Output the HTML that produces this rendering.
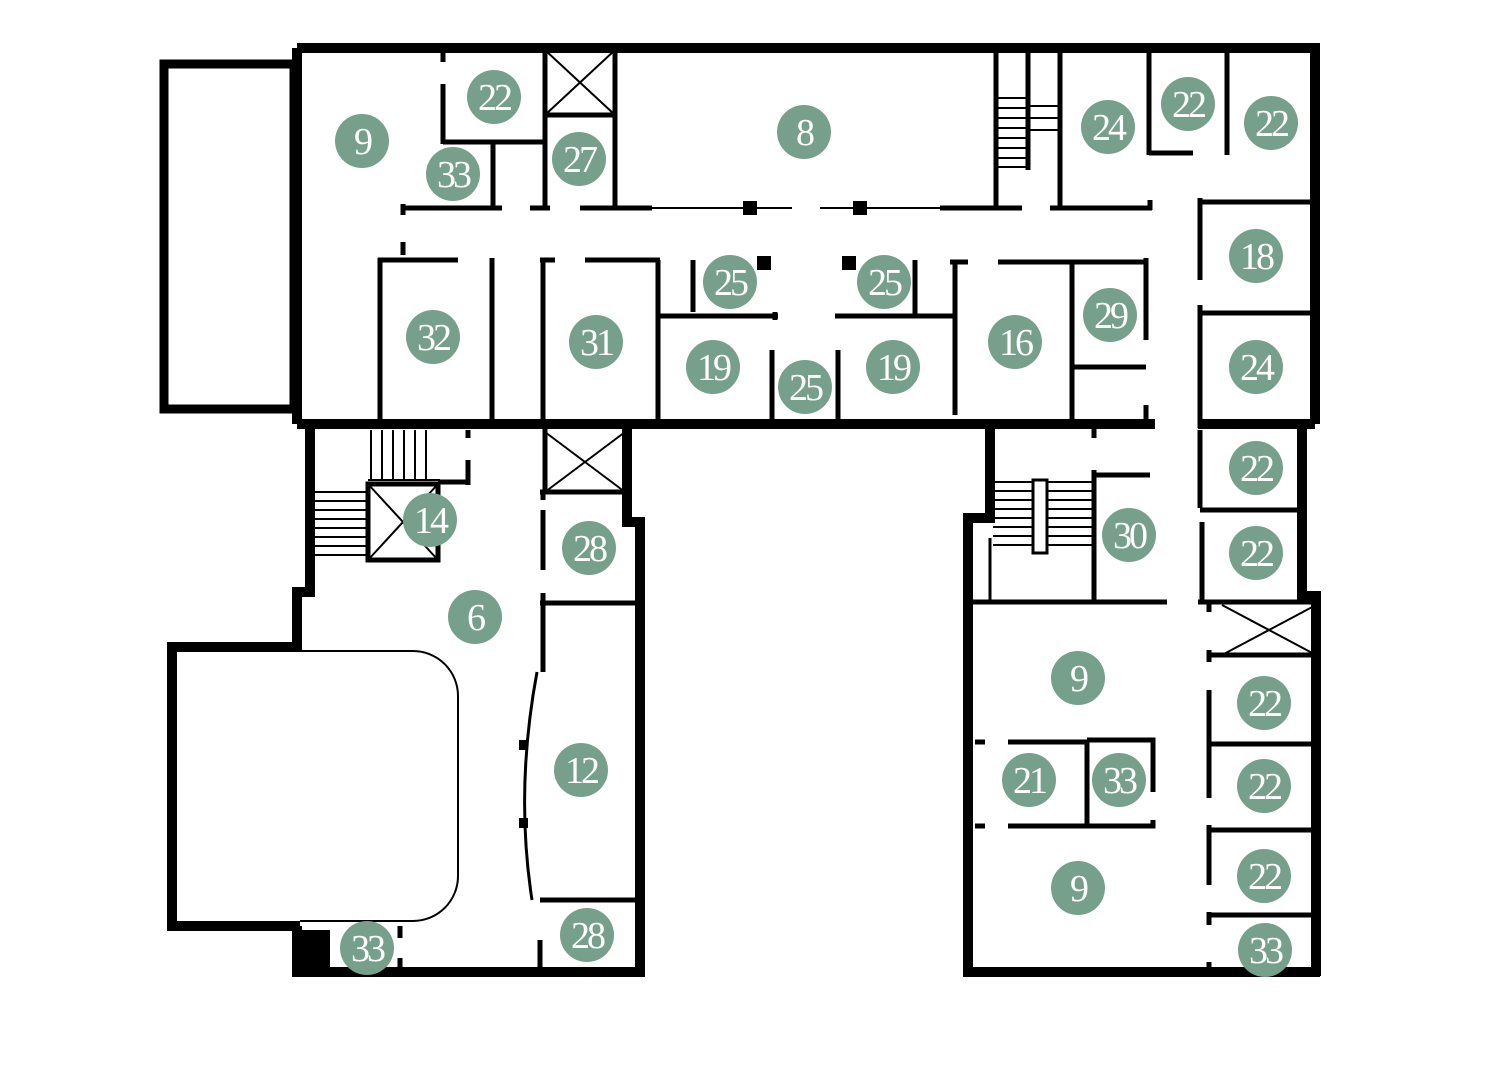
<!DOCTYPE html>
<html><head><meta charset="utf-8"><style>html,body{margin:0;padding:0;background:#fff}svg{display:block}</style></head>
<body>
<svg width="1500" height="1080" viewBox="0 0 1500 1080" xmlns="http://www.w3.org/2000/svg">
<g fill="none" stroke="#000" stroke-linecap="butt">
<g stroke-width="10">
<path d="M297 48 H1315 V424"/>
<path d="M297 48 V424"/>
<path d="M297 424 H1155 M1198 424 H1315"/>
<path d="M310 424 V592 H297 V647"/>
<path d="M302 647 H172 V926 H300"/>
<path d="M297 926 V976 M292 972 H645 M640 976 V522 H627 V428"/>
<path d="M990 428 V518 H968 V976 M963 972 H1320 M1316 976 V596 H1302 V428"/>
</g>
<rect x="164" y="64" width="130" height="345" stroke-width="9"/>
<rect x="292" y="930" width="38" height="46" fill="#000" stroke="none"/>
<path d="M300 651 H413 A45 45 0 0 1 458 696 V876 A45 45 0 0 1 413 921 H300" stroke-width="2"/>
<g stroke-width="5">
<path d="M443 50 V62 M443 84 V144 M443 142 H545"/>
<path d="M493 142 V208"/>
<path d="M545 50 V208 M615 50 V208 M545 115 H615"/>
<path d="M402 208 H502 M530 208 H550 M580 208 H652 M940 208 H1022 M1050 208 H1152"/>
<path d="M1150 200 V210"/>
<path d="M403 204 V215 M403 242 V255"/>
<path d="M996 50 V210 M1028 50 V170 M1060 50 V210"/>
<path d="M1149 50 V155 M1149 153 H1193 M1227 50 V155"/>
<path d="M1200 198 V280 M1198 202 H1315 M1198 313 H1315 M1200 305 V320 M1200 318 V428"/>
<path d="M380 258 V420 M378 260 H458 M492 258 V420"/>
<path d="M543 258 V420 M540 260 H555 M585 260 H660 M658 260 V420 M658 316 H778 M693 260 V312 M775 312 V320"/>
<path d="M772 350 V420 M838 350 V420 M835 316 H955 M915 260 V314 M955 260 V415 M950 262 H968 M998 262 H1148 M1072 262 V420 M1072 367 H1146 M1146 258 V340 M1146 405 V420 M1094 424 V438"/>
<path d="M468 430 V438 M468 460 V485 M438 482 H470"/>
<path d="M545 428 V492 M540 492 H625 M543 492 V500 M543 510 V570 M543 593 V672 M540 603 H638 M540 900 H638 M540 940 V972"/>
<path d="M400 926 V938 M400 958 V972"/>
<path d="M1094 470 V600 M1092 475 H1150 M968 602 H1167 M1198 602 H1320"/>
<path d="M1200 430 V508 M1200 510 H1302 M1202 522 V600"/>
<path d="M1209 600 V612 M1208 655 H1316 M1209 650 V662 M1209 690 V798 M1209 744 H1316 M1209 825 V885 M1209 830 H1316 M1209 912 V925 M1209 915 H1316 M1209 962 V972"/>
<path d="M1087 740 V828 M1087 740 H1153 V792 M1087 826 H1153 V820"/>
<path d="M975 742 H985 M1008 742 H1087 M975 826 H985 M1008 826 H1087"/>
</g>
<g stroke-width="2">
<path d="M652 208 H792 M820 208 H940"/>
<path d="M545 50 L615 115 M615 50 L545 115"/>
<path d="M545 432 L625 492 M625 432 L545 492"/>
<path d="M1222 605 L1316 655 M1316 605 L1222 655"/>
<rect x="368" y="484" width="70" height="76" stroke-width="5"/>
<path d="M368 484 L438 560 M438 484 L368 560"/>
<path d="M371 430 V480 M382 430 V480 M393 430 V480 M404 430 V480 M415 430 V480 M426 430 V480 M368 480 H440"/>
<path d="M315 492 H368 M315 501 H368 M315 510 H368 M315 519 H368 M315 528 H368 M315 537 H368 M315 546 H368 M315 555 H368"/>
<path d="M998 98 H1028 M998 108 H1028 M998 118 H1028 M998 128 H1028 M998 138 H1028 M998 148 H1028 M998 158 H1028 M998 167 H1028 M1028 106 H1060 M1028 118 H1060 M1028 130 H1060"/>
<path d="M993 482 H1092 M993 491 H1092 M993 500 H1092 M993 509 H1092 M993 518 H1092 M993 527 H1092 M993 536 H1092 M993 545 H1092"/>
<rect x="1033" y="480" width="14" height="73" fill="#fff" stroke-width="3"/>
<path d="M990 538 V600" stroke-width="3"/>
<path d="M537 672 Q515 790 532 900" stroke-width="3"/>
</g>
<g fill="#000" stroke="none">
<rect x="743" y="201" width="14" height="14"/><rect x="853" y="201" width="14" height="14"/>
<rect x="757" y="256" width="14" height="14"/><rect x="842" y="256" width="14" height="14"/>
<rect x="519" y="740" width="9" height="10"/><rect x="519" y="818" width="9" height="10"/>
</g>
</g>
<g fill="#76a08b">
<circle cx="362" cy="141" r="27"/><circle cx="494" cy="97" r="27"/><circle cx="453" cy="174" r="27"/><circle cx="579" cy="159" r="27"/>
<circle cx="804" cy="132" r="27"/><circle cx="1108" cy="127" r="27"/><circle cx="1188" cy="104" r="27"/><circle cx="1271" cy="123" r="27"/>
<circle cx="1256" cy="256" r="27"/><circle cx="1256" cy="367" r="27"/><circle cx="1110" cy="315" r="27"/><circle cx="1015" cy="342" r="27"/>
<circle cx="433" cy="337" r="27"/><circle cx="596" cy="342" r="27"/><circle cx="730" cy="282" r="27"/><circle cx="884" cy="282" r="27"/>
<circle cx="713" cy="367" r="27"/><circle cx="805" cy="387" r="27"/><circle cx="893" cy="367" r="27"/>
<circle cx="430" cy="520" r="27"/><circle cx="589" cy="548" r="27"/><circle cx="475" cy="617" r="27"/><circle cx="581" cy="770" r="27"/>
<circle cx="587" cy="935" r="27"/><circle cx="367" cy="948" r="27"/>
<circle cx="1129" cy="535" r="27"/><circle cx="1256" cy="468" r="27"/><circle cx="1256" cy="553" r="27"/>
<circle cx="1078" cy="678" r="27"/><circle cx="1029" cy="780" r="27"/><circle cx="1119" cy="780" r="27"/><circle cx="1078" cy="888" r="27"/>
<circle cx="1264" cy="703" r="27"/><circle cx="1264" cy="786" r="27"/><circle cx="1264" cy="876" r="27"/><circle cx="1265" cy="950" r="27"/>
</g>
<g fill="#fff" font-family="Liberation Serif, serif" font-size="38" text-anchor="middle" letter-spacing="-3">
<text x="362" y="154">9</text><text x="494" y="110">22</text><text x="453" y="187">33</text><text x="579" y="172">27</text>
<text x="804" y="145">8</text><text x="1108" y="140">24</text><text x="1188" y="117">22</text><text x="1271" y="136">22</text>
<text x="1256" y="269">18</text><text x="1256" y="380">24</text><text x="1110" y="328">29</text><text x="1015" y="355">16</text>
<text x="433" y="350">32</text><text x="596" y="355">31</text><text x="730" y="295">25</text><text x="884" y="295">25</text>
<text x="713" y="380">19</text><text x="805" y="400">25</text><text x="893" y="380">19</text>
<text x="430" y="533">14</text><text x="589" y="561">28</text><text x="475" y="630">6</text><text x="581" y="783">12</text>
<text x="587" y="948">28</text><text x="367" y="961">33</text>
<text x="1129" y="548">30</text><text x="1256" y="481">22</text><text x="1256" y="566">22</text>
<text x="1078" y="691">9</text><text x="1029" y="793">21</text><text x="1119" y="793">33</text><text x="1078" y="901">9</text>
<text x="1264" y="716">22</text><text x="1264" y="799">22</text><text x="1264" y="889">22</text><text x="1265" y="963">33</text>
</g>
</svg>
</body></html>
